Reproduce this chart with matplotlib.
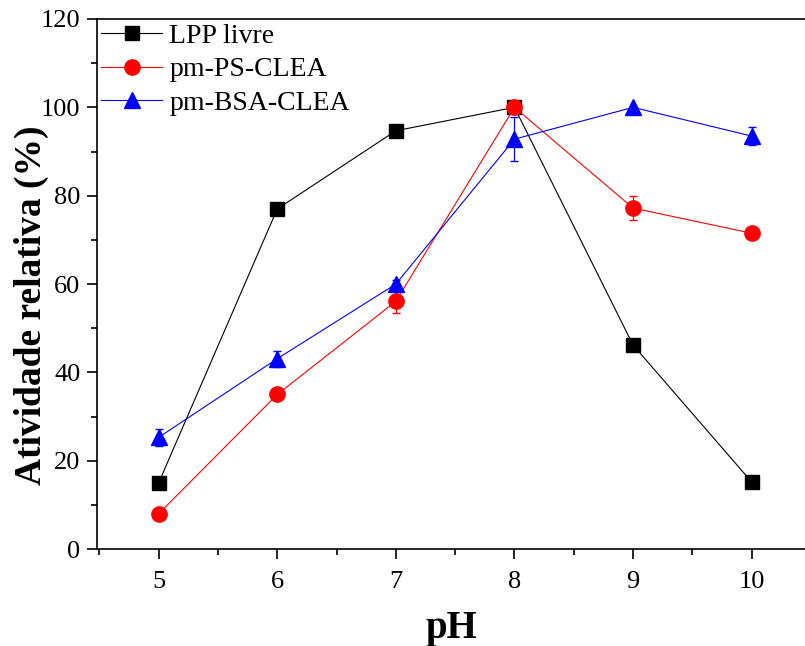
import matplotlib
matplotlib.use("Agg")
import matplotlib.pyplot as plt
from matplotlib.ticker import MultipleLocator

plt.rcParams['font.family'] = ['Liberation Serif', 'DejaVu Serif']

ph = [5, 6, 7, 8, 9, 10]
lpp = [15.0, 77.0, 94.7, 100.0, 46.2, 15.2]
ps = [8.0, 35.0, 56.1, 100.0, 77.2, 71.5]
ps_err = [0.0, 1.2, 2.6, 0.0, 2.8, 0.0]
bsa = [25.3, 43.1, 60.0, 92.8, 100.0, 93.5]
bsa_err = [2.0, 1.8, 1.0, 5.0, 0.0, 2.0]

fig = plt.figure(figsize=(8.05, 6.46), dpi=100)
ax = fig.add_axes([0.1205, 0.150, 0.8795, 0.8206])

ax.errorbar(ph, ps, yerr=ps_err, fmt='none', ecolor='red', capsize=3, elinewidth=0.9)
ax.errorbar(ph, bsa, yerr=bsa_err, fmt='none', ecolor='blue', capsize=3, elinewidth=0.9)

ax.plot(ph, lpp, color='black', marker='s', markersize=10, lw=0.8, label='LPP livre')
ax.plot(ph, ps, color='red', marker='o', markersize=11, lw=0.8, label='pm-PS-CLEA')
ax.plot(ph, bsa, color='blue', marker='^', markersize=11, lw=0.8, label='pm-BSA-CLEA')

ax.set_xlim(4.48, 10.45)
ax.set_ylim(0, 120)
ax.xaxis.set_major_locator(MultipleLocator(1))
ax.xaxis.set_minor_locator(MultipleLocator(0.5))
ax.yaxis.set_major_locator(MultipleLocator(20))
ax.yaxis.set_minor_locator(MultipleLocator(10))
ax.tick_params(which='major', direction='out', length=7, width=1.2, labelsize=19, pad=5)
ax.tick_params(axis='x', which='major', pad=9)
ax.tick_params(which='minor', direction='out', length=4, width=1.2)
for s in ['left', 'bottom', 'top']:
    ax.spines[s].set_linewidth(1.2)
ax.spines['right'].set_visible(False)

ax.set_xlabel('pH', fontsize=28, fontweight='bold', labelpad=12)
ax.set_ylabel('Atividade relativa (%)', fontsize=27, fontweight='bold')
ax.yaxis.set_label_coords(-0.068, 0.46)

leg = ax.legend(loc='upper left', frameon=False, fontsize=20, handlelength=2.2,
                borderaxespad=0.05, borderpad=0.1, labelspacing=0.3, handletextpad=0.25)

fig.savefig('out.png', dpi=100)
